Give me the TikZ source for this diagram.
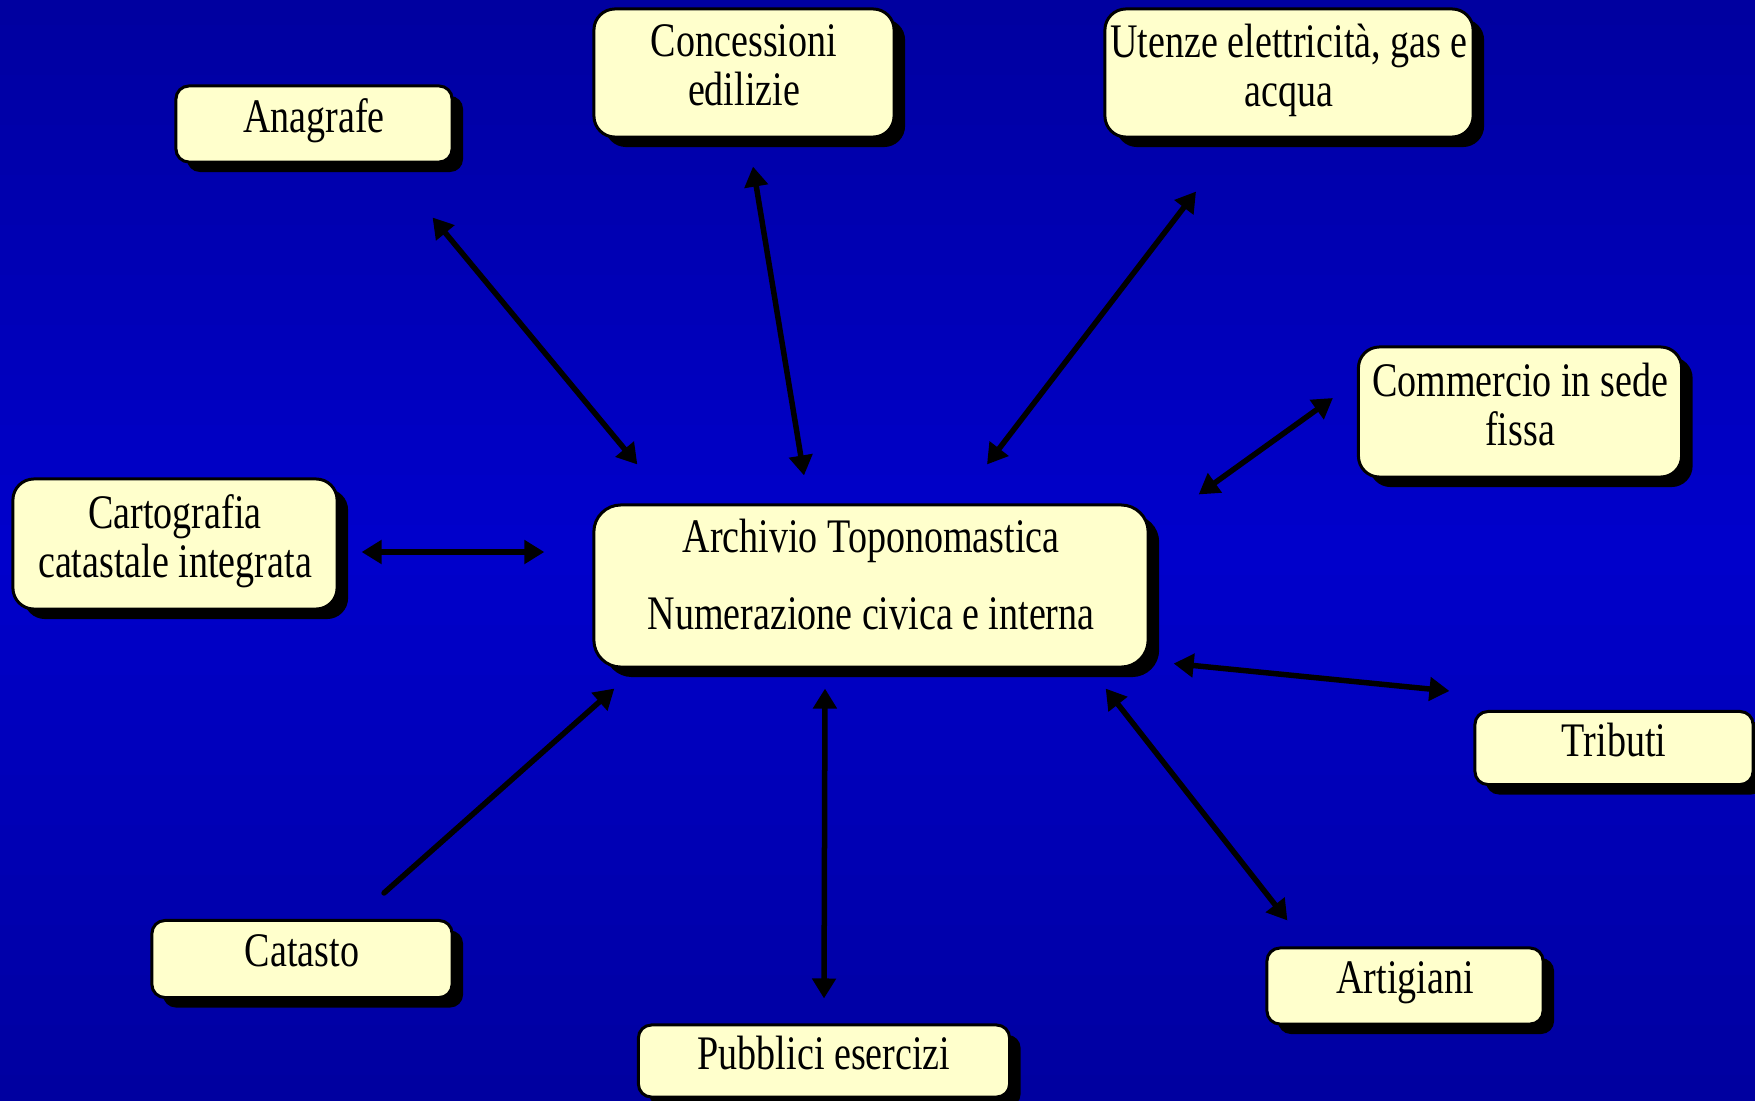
\documentclass[tikz,border=0pt]{standalone}
\usepackage{fontspec}
\setmainfont{Liberation Serif}[FakeStretch=0.79]
\usetikzlibrary{arrows.meta}
\usetikzlibrary{shadows}
\definecolor{bgdark}{RGB}{0,0,160}
\definecolor{bgmid}{RGB}{0,0,204}
\definecolor{boxfill}{RGB}{255,255,204}
\tikzset{box/.style={rectangle,draw=black,line width=0.03cm,fill=boxfill,rounded corners=0.13cm,align=center,inner sep=0pt,text depth=0.16cm,font=\fontsize{13.7pt}{13.95pt}\selectfont,drop shadow={shadow xshift=0.11cm,shadow yshift=-0.1cm,fill=black,opacity=1}}}
\tikzset{link/.style={black,line width=0.055cm,>={Triangle[length=0.2cm,width=0.23cm]},<->}}

\begin{document}
\begin{tikzpicture}[x=0.01cm,y=-0.01cm]
  % Background
  \path[use as bounding box,clip] (0,0) rectangle (1755,1100);
  \foreach \i in {0,...,43}
  {
    \pgfmathtruncatemacro\mix{100-abs(\i-21.5)/21.5*100}
    \fill[bgmid!\mix!bgdark] (0,\i*25) rectangle (1755,\i*25+26);
  }

  % Boxes
  \node[box,minimum width=5.54cm,minimum height=1.62cm,rounded corners=0.27cm,text depth=0.24cm] (main) at (871,586) {Archivio Toponomastica\\[0.28cm]Numerazione civica e interna};
  \node[box,minimum width=2.76cm,minimum height=0.76cm] (ana) at (314,124) {Anagrafe};
  \node[box,minimum width=3.00cm,minimum height=1.28cm,rounded corners=0.21cm] (conc) at (744,73) {Concessioni\\edilizie};
  \node[box,minimum width=3.68cm,minimum height=1.28cm,rounded corners=0.21cm] (ute) at (1289,73) {Utenze elettricità, gas e\\acqua};
  \node[box,minimum width=3.23cm,minimum height=1.30cm,rounded corners=0.21cm] (comm) at (1520,412) {Commercio in sede\\fissa};
  \node[box,minimum width=3.24cm,minimum height=1.30cm,rounded corners=0.21cm] (carto) at (175,544) {Cartografia\\catastale integrata};
  \node[box,minimum width=2.78cm,minimum height=0.73cm] (trib) at (1614,748) {Tributi};
  \node[box,minimum width=2.76cm,minimum height=0.76cm] (art) at (1405,986) {Artigiani};
  \node[box,minimum width=3.71cm,minimum height=0.72cm] (pub) at (824,1061) {Pubblici esercizi};
  \node[box,minimum width=3.00cm,minimum height=0.77cm] (cat) at (302,959) {Catasto};

  % Arrows
  \draw[link] ([shift={(-21,54)}]ana.south east) -- ([shift={(45,-39)}]main.north west);
  \draw[link] ([shift={(9,28)}]conc.south) -- ([shift={(-67,-28)}]main.north);
  \draw[link] ([shift={(-93,53)}]ute.south) -- ([shift={(116,-39)}]main.north);
  \draw[link] ([shift={(-24,-14)}]comm.west) -- ([shift={(49,-9)}]main.north east);
  \draw[link] ([shift={(23,8)}]carto.east) -- ([shift={(-48,-34)}]main.west);
  \draw[link] ([shift={(24,-5)}]main.south east) -- ([shift={(-24,-19)}]trib.north west);
  \draw[link] ([shift={(-44,20)}]main.south east) -- ([shift={(22,-26)}]art.north west);
  \draw[link] ([shift={(-46,20)}]main.south) -- ([shift={(0,-25)}]pub.north);
  \draw[link,->,line cap=round] ([shift={(82,-26)}]cat.north) -- ([shift={(22,20)}]main.south west);
\end{tikzpicture}
\end{document}
